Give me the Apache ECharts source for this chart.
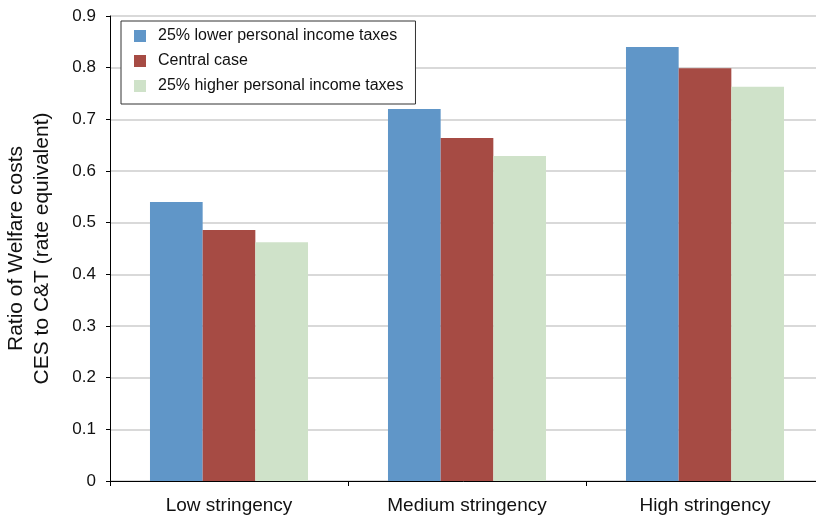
<!DOCTYPE html>
<html><head><meta charset="utf-8">
<script src="https://cdn.jsdelivr.net/npm/echarts@6/dist/echarts.min.js"></script>
<style>html,body{margin:0;padding:0;background:#fff}#c{width:816px;height:516px}</style>
</head><body><div id="c"></div>
<script>
var categories = ['Low stringency', 'Medium stringency', 'High stringency'];
var seriesNames = ['25% lower personal income taxes', 'Central case', '25% higher personal income taxes'];
var lowerTaxes = [0.54, 0.72, 0.84];
var centralCase = [0.486, 0.664, 0.799];
var higherTaxes = [0.462, 0.629, 0.763];
var yTicks = [0, 0.1, 0.2, 0.3, 0.4, 0.5, 0.6, 0.7, 0.8, 0.9];

var FONT = '"Liberation Sans", Arial, Helvetica, sans-serif';
var colors = ['#6096C8', '#A64B44', '#CFE2C9'];
var chart = echarts.init(document.getElementById('c'));
var values = [lowerTaxes, centralCase, higherTaxes];
chart.setOption({
  animation: false,
  textStyle: {fontFamily: FONT},
  grid: {left: 110, top: 16, bottom: 35, width: 714, containLabel: false, outerBoundsMode: 'none'},
  legend: {
    orient: 'vertical', left: 121, top: 21,
    data: seriesNames,
    icon: 'rect', itemWidth: 12, itemHeight: 12, itemGap: 9,
    padding: [7, 12, 10, 13],
    backgroundColor: '#fff', borderColor: '#333', borderWidth: 1,
    textStyle: {fontFamily: FONT, fontSize: 16, color: '#111', lineHeight: 16, padding: [0, 0, 0, 7]}
  },
  xAxis: {
    type: 'category', data: categories,
    axisLine: {lineStyle: {color: '#000', width: 1}},
    axisTick: {show: true, length: 5, inside: false, alignWithLabel: false, lineStyle: {color: '#000'}},
    axisLabel: {fontFamily: FONT, fontSize: 19, color: '#111', margin: 15},
    splitLine: {show: false}
  },
  yAxis: {
    type: 'value', min: 0, max: 0.9, interval: 0.1,
    name: 'Ratio of Welfare costs\nCES to C&T (rate equivalent)',
    nameLocation: 'middle', nameRotate: 90, nameGap: 55,
    nameTextStyle: {fontFamily: FONT, fontSize: 21, color: '#111', lineHeight: 26},
    axisLine: {show: true, lineStyle: {color: '#000', width: 1}},
    axisTick: {show: true, length: 4, lineStyle: {color: '#000'}},
    axisLabel: {fontFamily: FONT, fontSize: 17, color: '#111', margin: 14,
      formatter: function (v) { var t = yTicks.find(function (x) { return Math.abs(x - v) < 1e-9; }); return t === 0 ? '0' : String(t); }},
    splitLine: {show: true, lineStyle: {color: '#cccccc', width: 1.5}}
  },
  series: seriesNames.map(function (n, i) {
    return {
      name: n, type: 'bar', data: values[i],
      barGap: '0%', barCategoryGap: '33.6%',
      itemStyle: {color: colors[i]}
    };
  })
});
</script></body></html>
